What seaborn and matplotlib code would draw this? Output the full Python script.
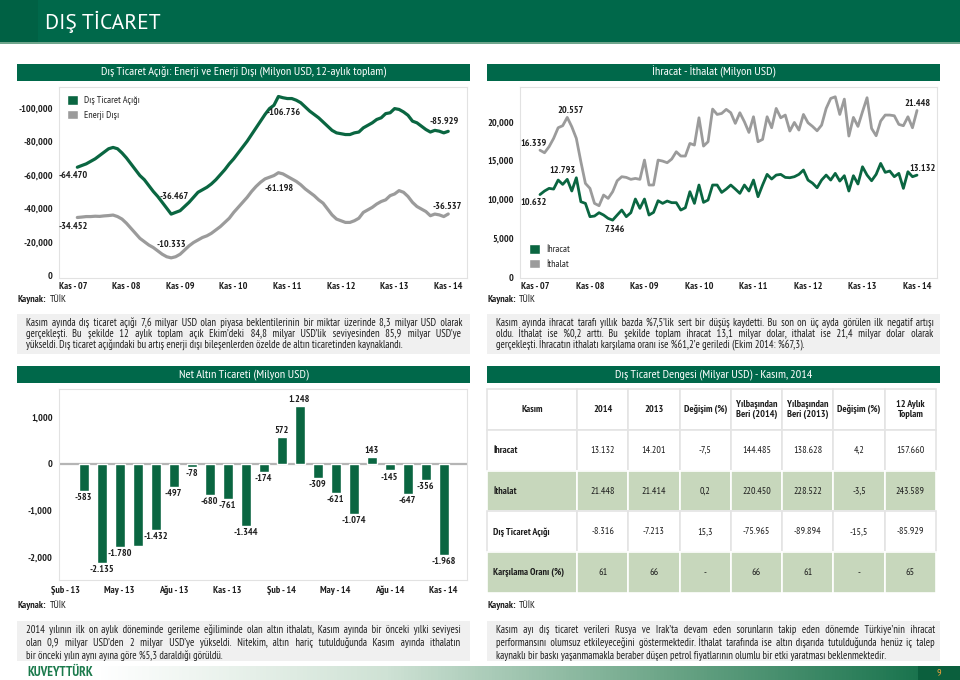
import numpy as np
import pandas as pd
import seaborn as sns
import matplotlib
matplotlib.use('Agg')
import matplotlib.pyplot as plt
from matplotlib import font_manager
from matplotlib.patches import Rectangle, Patch
from matplotlib.ticker import FuncFormatter
from matplotlib.colors import LinearSegmentedColormap

# ---------------- veriler ----------------
# 12 aylik toplam, bin milyon USD (Ara 07 - Kas 14)
dis_ticaret_acigi_k = [
    -64.470, -65.5, -66.5, -68, -69.5, -71.5, -73.5, -75.5, -76.3, -75.5, -73, -70,
    -66.5, -63, -59.5, -57, -53.5, -50, -47, -43.5, -40, -36.467, -37.5, -38.5,
    -41, -43.5, -46.5, -49.5, -51, -52.5, -54.5, -57, -60, -63, -66.5, -69.5,
    -73, -76.5, -80, -84, -88, -92, -96, -99.5, -101.5, -106.736, -106, -105.5,
    -105.5, -104.5, -103, -100.5, -98, -96, -94, -91.5, -89, -86.5, -85, -84.5,
    -84, -84, -85, -85.5, -88, -89.5, -91, -93, -94, -96.5, -97, -99.5,
    -99, -97.5, -95.5, -92, -91, -89, -87, -85.5, -86.5, -86, -85, -85.929]
enerji_disi_k = [
    -34.452, -34.7, -35, -35, -35.2, -35.1, -35.4, -35.6, -35.9, -35, -33.5, -31,
    -28, -25, -22, -20, -18, -16.5, -14.5, -12.5, -11, -10.333, -11, -12.5,
    -15, -17.5, -19.5, -21, -22.5, -23.5, -25, -27, -29, -31.5, -34, -37.5,
    -40.5, -43.5, -46.5, -50, -53, -55.5, -57.5, -58.5, -59.5, -61.198, -60.5, -59,
    -57.5, -56, -54, -51.5, -49.5, -47.5, -45, -43, -39.5, -36, -33.5, -32.5,
    -31.5, -31.5, -32.5, -34, -37.5, -39, -40.5, -42.5, -44, -45, -47.5, -48.5,
    -50.5, -49.5, -47, -43.5, -41, -39.5, -38, -35.5, -36.5, -36, -35, -36.537]

# aylik, bin milyon USD (Ara 07 - Kas 14)
ihracat_k = [
    10.632, 11.09, 11.43, 11.34, 12.5, 11.94, 12.59, 11.09, 12.793, 9.71, 9.5, 7.79,
    7.87, 8.30, 8.0, 7.57, 7.346, 8.0, 8.64, 7.79, 8.30, 10.06, 8.86, 10.06,
    8.0, 8.34, 9.84, 9.5, 9.8, 9.59, 9.59, 8.64, 8.94, 11.0, 9.5, 11.86,
    9.63, 9.93, 11.86, 11.86, 10.91, 11.34, 11.86, 11.34, 10.79, 11.86, 11.09, 12.5,
    10.36, 11.86, 13.23, 12.63, 13.14, 13.23, 12.84, 12.8, 12.93, 13.23, 13.79, 12.5,
    12.1, 11.51, 12.5, 13.14, 12.5, 13.36, 12.37, 13.06, 11.09, 13.06, 11.99, 14.21,
    13.14, 12.41, 13.23, 14.64, 13.49, 13.66, 12.93, 13.36, 11.43, 13.57, 12.93, 13.132]
ithalat_k = [
    16.339, 16.01, 16.79, 17.86, 19.23, 19.49, 20.557, 19.36, 17.86, 14.86, 12.07, 11.43,
    9.50, 9.20, 10.57, 10.14, 11.0, 12.41, 12.93, 12.84, 12.59, 12.71, 12.59, 15.07,
    11.86, 11.86, 15.07, 14.94, 14.73, 15.2, 16.14, 15.59, 15.59, 17.21, 17.0, 20.51,
    16.87, 17.43, 21.63, 20.94, 21.07, 21.59, 21.16, 19.79, 21.16, 20.0, 18.63, 20.64,
    17.43, 17.73, 20.64, 19.23, 21.71, 20.51, 20.86, 18.8, 19.91, 18.93, 20.94, 19.87,
    19.4, 18.84, 19.57, 21.71, 23.0, 23.21, 20.94, 22.91, 18.16, 20.56, 19.4, 21.29,
    23.09, 19.14, 18.2, 20.09, 20.86, 20.86, 20.77, 19.66, 19.49, 20.64, 19.23, 21.448]
yil_etiket = ['Kas - 07', 'Kas - 08', 'Kas - 09', 'Kas - 10', 'Kas - 11',
              'Kas - 12', 'Kas - 13', 'Kas - 14']

# net altin ticareti, milyon USD
altin_aylar = ['Şub - 13', 'Mar - 13', 'Nis - 13', 'May - 13', 'Haz - 13', 'Tem - 13',
               'Ağu - 13', 'Eyl - 13', 'Eki - 13', 'Kas - 13', 'Ara - 13', 'Oca - 14',
               'Şub - 14', 'Mar - 14', 'Nis - 14', 'May - 14', 'Haz - 14', 'Tem - 14',
               'Ağu - 14', 'Eyl - 14', 'Eki - 14', 'Kas - 14']
altin_net = [np.nan, -583, -2135, -1780, -1771, -1432, -497, -78, -680, -761, -1344,
             -174, 572, 1248, -309, -621, -1074, 143, -145, -647, -356, -1968]
altin_etiketsiz = ['Haz - 13']

# dis ticaret dengesi tablosu
tablo_sutun = ['Kasım', '2014', '2013', 'Değişim (%)', 'Yılbaşından\nBeri (2014)',
               'Yılbaşından\nBeri (2013)', 'Değişim (%)', '12 Aylık\nToplam']
tablo_ihracat = ['İhracat', '13.132', '14.201', '-7,5', '144.485', '138.628', '4,2', '157.660']
tablo_ithalat = ['İthalat', '21.448', '21.414', '0,2', '220.450', '228.522', '-3,5', '243.589']
tablo_acik = ['Dış Ticaret Açığı', '-8.316', '-7.213', '15,3', '-75.965', '-89.894', '-15,5', '-85.929']
tablo_oran = ['Karşılama Oranı (%)', '61', '66', '-', '66', '61', '-', '65']

metin_sol_ust = [
    "Kasım ayında dış ticaret açığı 7,6 milyar USD olan piyasa beklentilerinin bir miktar üzerinde 8,3 milyar USD olarak",
    "gerçekleşti. Bu şekilde 12 aylık toplam açık Ekim’deki 84,8 milyar USD’lik seviyesinden 85,9 milyar USD’ye",
    "yükseldi. Dış ticaret açığındaki bu artış enerji dışı bileşenlerden özelde de altın ticaretinden kaynaklandı."]
metin_sag_ust = [
    "Kasım ayında ihracat tarafı yıllık bazda %7,5’lik sert bir düşüş kaydetti. Bu son on üç ayda görülen ilk negatif artışı",
    "oldu. İthalat ise %0,2 arttı. Bu şekilde toplam ihracat 13,1 milyar dolar, ithalat ise 21,4 milyar dolar olarak",
    "gerçekleşti. İhracatın ithalatı karşılama oranı ise %61,2’e geriledi (Ekim 2014: %67,3)."]
metin_sol_alt = [
    "2014 yılının ilk on aylık döneminde gerileme eğiliminde olan altın ithalatı, Kasım ayında bir önceki yılki seviyesi",
    "olan 0,9 milyar USD’den 2 milyar USD’ye yükseldi. Nitekim, altın hariç tutulduğunda Kasım ayında ithalatın",
    "bir önceki yılın aynı ayına göre %5,3 daraldığı görüldü."]
metin_sag_alt = [
    "Kasım ayı dış ticaret verileri Rusya ve Irak’ta devam eden sorunların takip eden dönemde Türkiye’nin ihracat",
    "performansını olumsuz etkileyeceğini göstermektedir. İthalat tarafında ise altın dışarıda tutulduğunda henüz iç talep",
    "kaynaklı bir baskı yaşanmamakla beraber düşen petrol fiyatlarının olumlu bir etki yaratması beklenmektedir."]

# ---------------- stil ----------------
sns.set_style('white')
names = {f.name for f in font_manager.fontManager.ttflist}
fams = [n for n in ['PT Sans Narrow', 'Archivo Narrow', 'Liberation Sans Narrow', 'Roboto']
        if n in names][:1] + ['DejaVu Sans']
plt.rcParams['font.family'] = fams
head_fam = [n for n in ['PT Sans', 'Liberation Sans'] if n in names][:1] + ['DejaVu Sans']

HEAD = '#00684a'
GREEN = '#0a6641'
GRAY = '#9b9b9b'
TXT = '#1e1e1e'
FRAME = '#e2e2e2'
FS = 7.2
HAIR = '\u200a'

W, H = 960, 680
fig = plt.figure(figsize=(W / 100, H / 100), dpi=100)
fig.patch.set_facecolor('white')


def fbox(x0, y0, x1, y1):
    return [x0 / W, 1 - y1 / H, (x1 - x0) / W, (y1 - y0) / H]


def frect(x0, y0, x1, y1, color, z=0):
    fig.add_artist(Rectangle((x0 / W, 1 - y1 / H), (x1 - x0) / W, (y1 - y0) / H,
                             transform=fig.transFigure, facecolor=color,
                             edgecolor='none', zorder=z))


def ftext(x, y, s, **kw):
    return fig.text(x / W, 1 - y / H, s, **kw)


renderer = fig.canvas.get_renderer()


def text_w(s, fs):
    t = ftext(0, 0, s, fontsize=fs)
    w = t.get_window_extent(renderer).width
    t.remove()
    return w


def justify(words, target, fs):
    # tek metin nesnesi: bosluk + ince bosluk ile iki yana yaslama
    sp = text_w('a a', fs) - text_w('aa', fs)
    hs = text_w('a' + HAIR + 'a', fs) - text_w('aa', fs)
    base = text_w(''.join(words), fs)
    gaps = len(words) - 1
    g = (target - base) / gaps
    out = words[0]
    cur = 0.0
    for j, w in enumerate(words[1:]):
        need = (j + 1) * g - cur
        k = max(1, int(need // sp))
        rem = need - k * sp
        m = max(0, int(round(rem / hs))) if hs > 0.3 else 0
        cur += k * sp + m * hs
        out += ' ' * k + HAIR * m + w
    return out


def paragraph(lines, x0, x1, y0, dy, fs=7.6):
    widest = max(text_w(line, fs) for line in lines[:-1])
    if widest > (x1 - x0) * 0.98:
        fs = fs * (x1 - x0) * 0.96 / widest
    for i, line in enumerate(lines):
        y = y0 + i * dy + 3.2
        s = line if i == len(lines) - 1 else justify(line.split(), x1 - x0, fs)
        ftext(x0, y, s, fontsize=fs, va='baseline', color=TXT)


def kaynak(x, y):
    t = ftext(x, y, 'Kaynak:', fontsize=FS, fontweight='bold', va='center', color=TXT)
    w = t.get_window_extent(renderer).width
    ftext(x + w + 3, y, 'TÜİK', fontsize=FS, va='center', color=TXT)


def title_bar(x0, y0, x1, y1, s):
    frect(x0, y0, x1, y1, HEAD)
    ftext((x0 + x1) / 2, (y0 + y1) / 2 + 3.3, s, ha='center', va='baseline',
          color='white', fontsize=8.8)


def style_axes(ax, xpad):
    for sp in ax.spines.values():
        sp.set_color(FRAME)
        sp.set_linewidth(0.8)
    ax.tick_params(axis='both', direction='out', length=3, width=0.8, color='#444444',
                   labelsize=FS, labelcolor=TXT, pad=1.5)
    ax.tick_params(axis='x', pad=xpad)
    for lab in ax.get_xticklabels():
        lab.set_fontweight('bold')
        lab.set_va('baseline')
    for lab in ax.get_yticklabels():
        lab.set_fontweight('bold')
    ax.set_xlabel('')
    ax.set_ylabel('')


fmt_axis = FuncFormatter(lambda v, p: f"{v:,.0f}")

# ---------------- baslik ----------------
frect(0, 0, 960, 42, HEAD)
frect(0, 42, 960, 44, '#6fa58c')
frect(0, 0, 38, 42, '#006144')
ftext(45, 22, 'DIŞ TİCARET', color='white', fontsize=15.5, va='center', family=head_fam)

title_bar(17, 64, 470, 81, 'Dış Ticaret Açığı: Enerji ve Enerji Dışı (Milyon USD, 12-aylık toplam)')
title_bar(487, 64, 940, 81, 'İhracat - İthalat (Milyon USD)')
title_bar(17, 366, 470, 383, 'Net Altın Ticareti (Milyon USD)')
title_bar(487, 366, 940, 383, 'Dış Ticaret Dengesi (Milyar USD) - Kasım, 2014')

ay = np.arange(1, len(dis_ticaret_acigi_k) + 1)
yil_pos = np.arange(0, 85, 12)

ann = dict(fontsize=FS, fontweight='bold', color=TXT, ha='center', va='center',
           textcoords='offset points')

# ---------------- sol ust: dis ticaret acigi ----------------
axL = fig.add_axes(fbox(59, 87, 467, 278))
df_l = pd.DataFrame({'ay': ay,
                     'acik': np.array(dis_ticaret_acigi_k) * 1000,
                     'enerji': np.array(enerji_disi_k) * 1000})
sns.lineplot(data=df_l, x='ay', y='acik', color=GREEN, lw=2.3, ax=axL)
sns.lineplot(data=df_l, x='ay', y='enerji', color=GRAY, lw=2.3, ax=axL)
axL.set_xlim(-3.1, 88.2)
axL.set_ylim(1700, -112400)
axL.set_yticks([0, -20000, -40000, -60000, -80000, -100000])
axL.yaxis.set_major_formatter(fmt_axis)
axL.set_xticks(yil_pos)
axL.set_xticklabels(yil_etiket)
style_axes(axL, 5)
axL.legend(handles=[Patch(facecolor=GREEN), Patch(facecolor=GRAY)],
           labels=['Dış Ticaret Açığı', 'Enerji Dışı'], loc='upper left',
           frameon=False, fontsize=FS, handlelength=1.1, handleheight=1.1,
           handletextpad=0.6, labelspacing=0.45, borderaxespad=0.4)
for i, off in [(0, (-3, -6)), (21, (2.4, 13)), (45, (4, -11.3)), (83, (-3, 7.4))]:
    v = dis_ticaret_acigi_k[i]
    axL.annotate(f"{v:.3f}", xy=(ay[i], v * 1000), xytext=off, **ann)
for i, off in [(0, (-3, -6.5)), (21, (0, 9.4)), (45, (0.5, -11.2)), (83, (-0.6, 5.3))]:
    v = enerji_disi_k[i]
    axL.annotate(f"{v:.3f}", xy=(ay[i], v * 1000), xytext=off, **ann)

# ---------------- sag ust: ihracat - ithalat ----------------
axR = fig.add_axes(fbox(520, 87, 937, 278))
df_r = pd.DataFrame({'ay': ay,
                     'ihracat': np.array(ihracat_k) * 1000,
                     'ithalat': np.array(ithalat_k) * 1000})
sns.lineplot(data=df_r, x='ay', y='ithalat', color=GRAY, lw=2.0, ax=axR)
sns.lineplot(data=df_r, x='ay', y='ihracat', color=GREEN, lw=2.0, ax=axR)
axR.set_xlim(-3.4, 88.4)
axR.set_ylim(-100, 24470)
axR.set_yticks([0, 5000, 10000, 15000, 20000])
axR.yaxis.set_major_formatter(fmt_axis)
axR.set_xticks(yil_pos)
axR.set_xticklabels(yil_etiket)
style_axes(axR, 5)
axR.legend(handles=[Patch(facecolor=GREEN), Patch(facecolor=GRAY)],
           labels=['İhracat', 'İthalat'], loc='lower left',
           frameon=False, fontsize=FS, handlelength=1.1, handleheight=1.1,
           handletextpad=0.6, labelspacing=0.45, borderaxespad=0.5)
for i, off in [(0, (-4.8, 5)), (6, (2.5, 4.8)), (83, (0, 4.7))]:
    v = ithalat_k[i]
    axR.annotate(f"{v:.3f}", xy=(ay[i], v * 1000), xytext=off, **ann)
for i, off in [(0, (-4.5, -5.8)), (8, (-10, 5)), (16, (1.7, -6.4)), (83, (4.3, 4.9))]:
    v = ihracat_k[i]
    axR.annotate(f"{v:.3f}", xy=(ay[i], v * 1000), xytext=off, **ann)

kaynak(18, 300)
kaynak(487, 300)

frect(17, 314, 470, 354, '#f0f0f0')
frect(487, 314, 940, 354, '#f0f0f0')
paragraph(metin_sol_ust, 26, 462, 322.7, 11.5)
paragraph(metin_sag_ust, 496, 935, 322.7, 11.5)

# ---------------- sol alt: net altin ticareti ----------------
axB = fig.add_axes(fbox(59, 389, 467, 580))
df_b = pd.DataFrame({'ay': altin_aylar, 'net': altin_net})
sns.barplot(data=df_b, x='ay', y='net', order=altin_aylar, color=GREEN,
            saturation=1, width=0.56, errorbar=None, ax=axB)
axB.axhline(0, color='#b5b5b5', lw=1.6, zorder=0.5)
axB.set_xlim(-0.37, 22.3)
axB.set_ylim(-2500, 1606)
axB.set_yticks([-2000, -1000, 0, 1000])
axB.yaxis.set_major_formatter(fmt_axis)
axB.set_xticks(range(0, len(altin_aylar), 3))
axB.set_xticklabels(altin_aylar[::3])
axB.set_xticks(range(len(altin_aylar)), minor=True)
style_axes(axB, 6.5)
axB.tick_params(axis='x', which='minor', length=2, color='#777777')
for i, (m, v) in enumerate(zip(altin_aylar, altin_net)):
    if np.isnan(v) or m in altin_etiketsiz:
        continue
    lab = f"{v:,.0f}".replace(',', '.')
    if v >= 0:
        axB.annotate(lab, xy=(i, v), xytext=(0, 1.5), textcoords='offset points',
                     ha='center', va='bottom', fontsize=FS, fontweight='bold', color=TXT)
    else:
        axB.annotate(lab, xy=(i, v), xytext=(0, -1.5), textcoords='offset points',
                     ha='center', va='top', fontsize=FS, fontweight='bold', color=TXT)

# ---------------- sag alt: tablo ----------------
axT = fig.add_axes(fbox(487, 389, 936, 593))
axT.axis('off')
rows = [tablo_ihracat, tablo_ithalat, tablo_acik, tablo_oran]
tbl = axT.table(cellText=rows, colLabels=tablo_sutun, cellLoc='center',
                colWidths=[90] + [51.3] * 7, bbox=[0, 0, 1, 1])
tbl.auto_set_font_size(False)
tbl.set_fontsize(FS)
for (r, c), cell in tbl.get_celld().items():
    cell.set_linewidth(1.2)
    txt = cell.get_text()
    txt.set_color(TXT)
    if r in (2, 4):
        cell.set_facecolor('#c7d7bc')
        cell.set_edgecolor('white')
    else:
        cell.set_facecolor('white')
        cell.set_edgecolor('#e4e4e4')
    if r == 0:
        txt.set_fontweight('bold')
    if c == 0 and r > 0:
        txt.set_fontweight('bold')
        txt.set_ha('left')
        cell._loc = 'left'
        cell.PAD = 0.07

kaynak(18, 605)
kaynak(487, 605)

frect(17, 621, 470, 661, '#f0f0f0')
frect(487, 621, 940, 661, '#f0f0f0')
paragraph(metin_sol_alt, 26, 462, 629.5, 13)
paragraph(metin_sag_alt, 496, 935, 629.5, 13)

# ---------------- alt bant ----------------
axF = fig.add_axes(fbox(98, 666, 960, 680))
cmap = LinearSegmentedColormap.from_list('bant', ['#ffffff', '#cfe2d5', '#6aa486', '#0d6c45'])
axF.imshow(np.linspace(0, 1, 256)[None, :], aspect='auto', cmap=cmap)
axF.axis('off')
frect(918, 666, 960, 680, '#0b5f3d', z=3)
ftext(939, 673, '9', color='#f2a33a', fontsize=7.5, ha='center', va='center', zorder=4)
ftext(27, 673, 'KUVEYTTÜRK', color='#1b7a4c', fontsize=9.5, fontweight='bold',
      va='center')

fig.savefig('out.png', dpi=100)
